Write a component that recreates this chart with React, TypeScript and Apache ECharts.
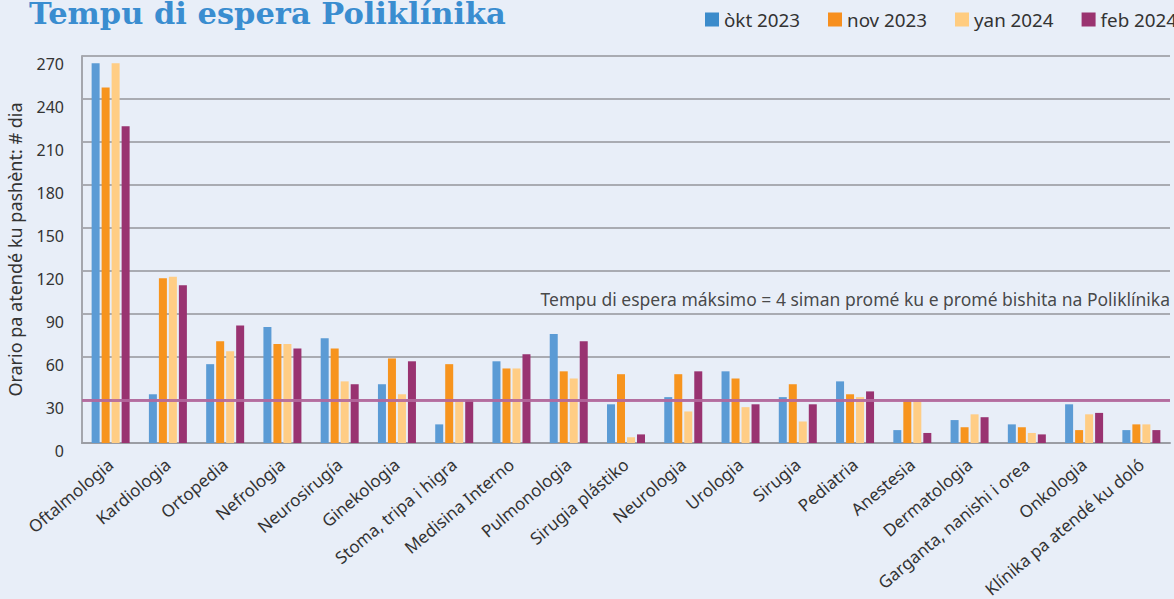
import React, { useEffect, useRef } from "react";
import * as echarts from "echarts";

const categories = [
  "Oftalmologia",
  "Kardiologia",
  "Ortopedia",
  "Nefrologia",
  "Neurosirugía",
  "Ginekologia",
  "Stoma, tripa i higra",
  "Medisina Interno",
  "Pulmonologia",
  "Sirugia plástiko",
  "Neurologia",
  "Urologia",
  "Sirugia",
  "Pediatria",
  "Anestesia",
  "Dermatologia",
  "Garganta, nanishi i orea",
  "Onkologia",
  "Klínika pa atendé ku doló",
];

const seriesNames = ["òkt 2023", "nov 2023", "yan 2024", "feb 2024"];

const okt2023 = [265, 34, 55, 81, 73, 41, 13, 57, 76, 27, 32, 50, 32, 43, 9, 16, 13, 27, 9];
const nov2023 = [248, 115, 71, 69, 66, 59, 55, 52, 50, 48, 48, 45, 41, 34, 30, 11, 11, 9, 13];
const yan2024 = [265, 116, 64, 69, 43, 34, 29, 52, 45, 4, 22, 25, 15, 32, 30, 20, 7, 20, 13];
const feb2024 = [221, 110, 82, 66, 41, 57, 30, 62, 71, 6, 50, 27, 27, 36, 7, 18, 6, 21, 9];

const maxWait = 30;
const maxWaitLabel =
  "Tempu di espera máksimo = 4 siman promé ku e promé bishita na Poliklínika";

const yTicks = [0, 30, 60, 90, 120, 150, 180, 210, 240, 270];

const title = "Tempu di espera Poliklínika";
const yAxisTitle = "Orario pa atendé ku pashènt: # dia";

const barColors = ["#5b9bd5", "#f7941e", "#ffcd85", "#993371"];
const legendColors = ["#3b8bcb", "#f78f1e", "#ffcc80", "#9a3370"];

export default function App() {
  const ref = useRef<HTMLDivElement>(null);

  useEffect(() => {
    if (!ref.current) return;
    const chart = echarts.init(ref.current, undefined, { renderer: "svg" });
    const font = '"Noto Sans", "Open Sans", sans-serif';
    const data = [okt2023, nov2023, yan2024, feb2024];

    const series: any[] = data.map((vals, i) => ({
      name: seriesNames[i],
      type: "bar",
      data: vals,
      barWidth: 8,
      barGap: "25%",
      itemStyle: { color: barColors[i] },
      ...(i === 0
        ? {
            markLine: {
              silent: true,
              symbol: "none",
              animation: false,
              lineStyle: { color: "#b4679c", width: 3, type: "solid", opacity: 0.9 },
              label: {
                show: true,
                position: "insideEndTop",
                distance: [0, 92],
                formatter: maxWaitLabel,
                fontFamily: font,
                fontSize: 17.5,
                color: "#333333",
              },
              data: [{ yAxis: maxWait }],
            },
          }
        : {}),
    }));

    chart.setOption({
      animation: false,
      backgroundColor: "#e8eef8",
      textStyle: { fontFamily: font },
      graphic: [
        {
          type: "text",
          x: 29,
          y: 13,
          style: {
            text: title,
            font: 'bold 30.5px "DejaVu Serif", serif',
            fill: "#3a8dd0",
            verticalAlign: "middle",
          },
        },
      ],
      legend: {
        left: 705,
        top: 10,
        width: 700,
        padding: 0,
        itemWidth: 14,
        itemHeight: 14,
        itemGap: 28,
        icon: "rect",
        textStyle: { fontSize: 18.8, color: "#333333", fontFamily: font },
        data: seriesNames.map((n, i) => ({ name: n, itemStyle: { color: legendColors[i] } })),
      },
      grid: {
        left: 82,
        right: 4,
        top: 56,
        bottom: 156,
        containLabel: false,
        outerBoundsMode: "none",
      },
      xAxis: {
        type: "category",
        data: categories,
        axisLine: { show: true, lineStyle: { color: "#9b9da4", width: 2 } },
        axisTick: { show: false },
        axisLabel: {
          interval: 0,
          rotate: 40,
          margin: 19,
          fontSize: 17,
          color: "#333333",
          fontFamily: font,
        },
      },
      yAxis: {
        type: "value",
        min: yTicks[0],
        max: yTicks[yTicks.length - 1],
        interval: yTicks[1] - yTicks[0],
        name: yAxisTitle,
        nameLocation: "middle",
        nameGap: 58,
        nameTextStyle: { fontSize: 18, color: "#333333", fontFamily: font },
        axisLine: { show: true, lineStyle: { color: "#a4a6ad", width: 2 } },
        axisTick: { show: false },
        splitLine: { show: true, lineStyle: { color: "#a9abb2", width: 2 } },
        axisLabel: {
          margin: 18,
          fontSize: 16,
          color: "#333333",
          fontFamily: font,
          verticalAlign: "top",
          lineHeight: 16,
        },
      },
      series,
    });

    return () => chart.dispose();
  }, []);

  return (
    <div
      ref={ref}
      style={{ position: "fixed", left: 0, top: 0, width: 1174, height: 599 }}
    />
  );
}
